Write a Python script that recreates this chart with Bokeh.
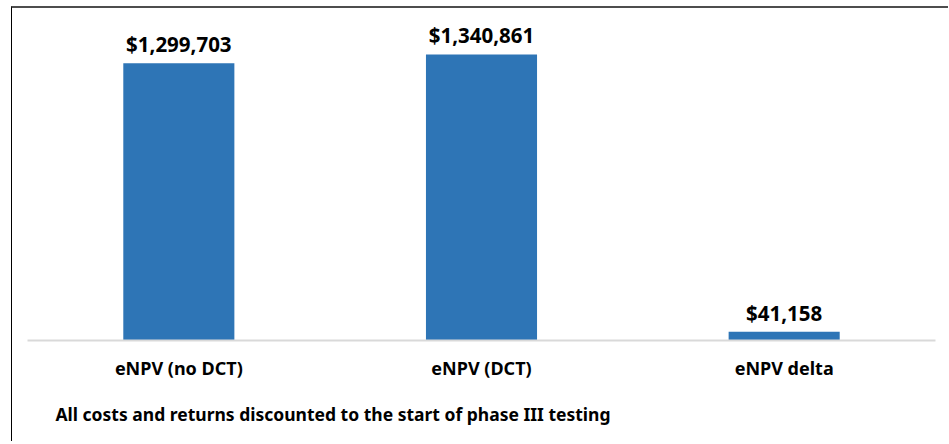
from bokeh.plotting import figure
from bokeh.models import ColumnDataSource, Range1d, FactorRange, Title
from bokeh.core.properties import value
from bokeh.embed import file_html
from bokeh.resources import INLINE

categories = ["eNPV (no DCT)", "eNPV (DCT)", "eNPV delta"]
values = [1299703, 1340861, 41158]
value_labels = ["$1,299,703", "$1,340,861", "$41,158"]
footnote = "All costs and returns discounted to the start of phase III testing"

src = ColumnDataSource(dict(cat=categories, val=values, lab=value_labels))

FONT = "Noto Sans"

p = figure(
    x_range=FactorRange(*categories, range_padding=0),
    y_range=Range1d(0, 1500000),
    width=937, height=435,
    output_backend="svg", toolbar_location=None,
    y_axis_location=None,
    min_border_left=15, min_border_right=14,
    min_border_top=12, min_border_bottom=103,
)
p.styles = {
    "border-top": "2px solid #4d4d4d",
    "border-left": "1px solid #000000",
    "margin-left": "11px",
    "margin-top": "6px",
}
p.outline_line_color = None
p.xgrid.grid_line_color = None
p.ygrid.grid_line_color = None

p.vbar(x="cat", top="val", width=0.367, source=src,
       fill_color="#2E75B6", line_color=None)

p.text(x="cat", y="val", text="lab", source=src,
       text_align="center", text_baseline="alphabetic", y_offset=-19,
       text_font=value(FONT), text_font_style="bold", text_font_size="20.5px",
       text_color="#000000")

ax = p.xaxis[0]
ax.axis_line_color = "#d9d9d9"
ax.axis_line_width = 2
ax.major_tick_line_color = None
ax.minor_tick_line_color = None
ax.major_tick_out = 0
ax.major_label_standoff = 15
ax.major_label_text_font = FONT
ax.major_label_text_font_style = "bold"
ax.major_label_text_font_size = "18px"
ax.major_label_text_color = "#000000"

t = Title(text=footnote, align="left", text_font=FONT, text_font_style="bold",
          text_font_size="17.5px", text_color="#000000", offset=28, standoff=35)
p.add_layout(t, "below")

open("out.html", "w").write(file_html(p, INLINE))
